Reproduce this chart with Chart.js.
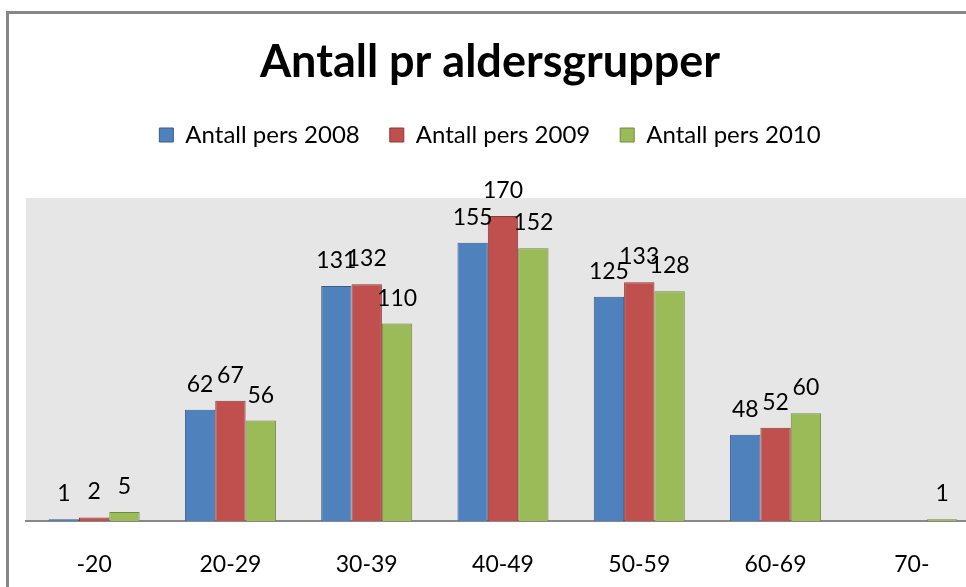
<!DOCTYPE html>
<html>
<head>
<meta charset="utf-8">
<script src="https://cdn.jsdelivr.net/npm/chart.js@4/dist/chart.umd.min.js"></script>
<style>
  html, body { margin: 0; padding: 0; background: #fff; overflow: hidden; }
  #wrap { position: relative; width: 966px; height: 587px; overflow: hidden; }
  #chart { position: absolute; left: 0; top: 0; }
  #frame { position: absolute; left: 6px; top: 11px; width: 1000px; height: 620px;
           border: 3px solid #868686; pointer-events: none; }
</style>
</head>
<body>
<div id="wrap">
  <canvas id="chart" width="990" height="587"></canvas>
  <div id="frame"></div>
</div>
<script>
const ageGroups = ["-20", "20-29", "30-39", "40-49", "50-59", "60-69", "70-"];
const pers2008 = [1, 62, 131, 155, 125, 48, null];
const pers2009 = [2, 67, 132, 170, 133, 52, null];
const pers2010 = [5, 56, 110, 152, 128, 60, 1];

const FONT = "Lato, 'Open Sans', sans-serif";

// grey plot background
const plotBg = {
  id: "plotBg",
  beforeDraw(chart) {
    const { ctx, chartArea: a } = chart;
    ctx.save();
    ctx.fillStyle = "#e6e6e6";
    ctx.fillRect(a.left, a.top, a.right - a.left, a.bottom - a.top);
    ctx.restore();
  }
};

// value labels above bars
const valueLabels = {
  id: "valueLabels",
  afterDatasetsDraw(chart) {
    const ctx = chart.ctx;
    ctx.save();
    ctx.font = "23px " + FONT;
    ctx.fillStyle = "#000";
    ctx.textAlign = "center";
    ctx.textBaseline = "alphabetic";
    chart.data.datasets.forEach((ds, i) => {
      chart.getDatasetMeta(i).data.forEach((bar, j) => {
        const v = ds.data[j];
        if (v == null) return;
        ctx.fillText(String(v), bar.x, bar.y - 18);
      });
    });
    ctx.restore();
  }
};

// extra room under the legend
const legendGap = {
  id: "legendGap",
  beforeInit(chart) {
    const fit = chart.legend.fit;
    chart.legend.fit = function () {
      fit.bind(chart.legend)();
      this.height += 41;
    };
  }
};

new Chart(document.getElementById("chart"), {
  type: "bar",
  data: {
    labels: ageGroups,
    datasets: [
      { label: "Antall pers 2008", data: pers2008, backgroundColor: "#4f81bd", borderColor: "#385d8a", borderWidth: 1 },
      { label: "Antall pers 2009", data: pers2009, backgroundColor: "#c0504d", borderColor: "#8c3836", borderWidth: 1 },
      { label: "Antall pers 2010", data: pers2010, backgroundColor: "#9bbb59", borderColor: "#71893f", borderWidth: 1 }
    ]
  },
  options: {
    responsive: false,
    animation: false,
    layout: { padding: { left: 0, right: 10, top: 0, bottom: 0 } },
    datasets: { bar: { categoryPercentage: 0.668, barPercentage: 1 } },
    plugins: {
      title: {
        display: true,
        text: "Antall pr aldersgrupper",
        color: "#000",
        font: { family: FONT, size: 45, weight: "bold" },
        padding: { top: 35, bottom: 4 }
      },
      legend: {
        labels: {
          color: "#000",
          font: { family: FONT, size: 24 },
          boxWidth: 14,
          boxHeight: 14,
          padding: 30
        }
      },
      tooltip: { enabled: false }
    },
    scales: {
      x: {
        grid: { display: false, drawTicks: false },
        border: { display: true, color: "#888", width: 2 },
        ticks: { color: "#000", font: { family: FONT, size: 23 }, padding: 30 },
        afterFit(scale) { scale.height = 66; }
      },
      y: {
        min: 0,
        max: 180,
        grid: { display: false, drawTicks: false },
        border: { display: false },
        ticks: { display: false },
        afterFit(scale) { scale.width = 26; }
      }
    }
  },
  plugins: [plotBg, valueLabels, legendGap]
});
</script>
</body>
</html>
